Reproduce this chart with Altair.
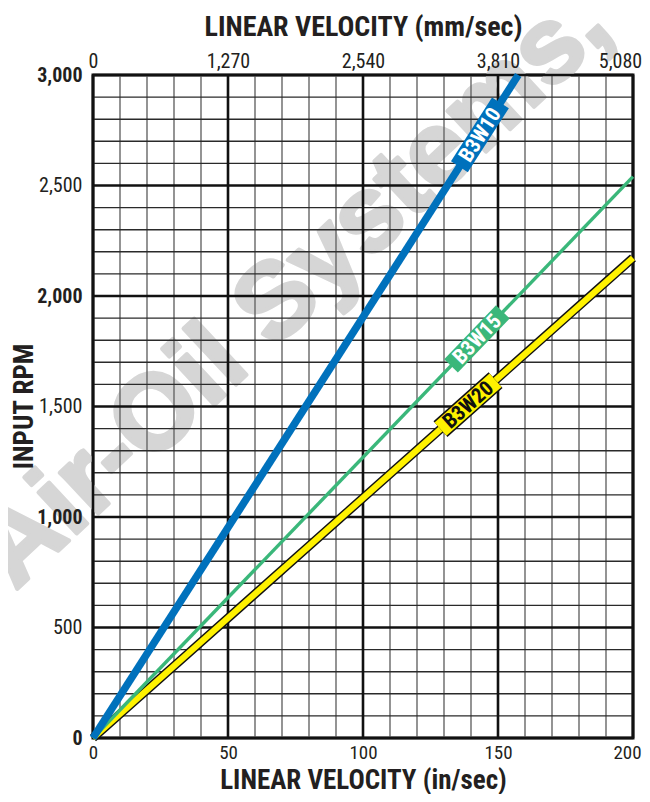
import altair as alt
import pandas as pd

# ---------------- data ----------------
series = ["B3W10", "B3W15", "B3W20"]
x_end = [157.5, 200.0, 200.0]        # in/sec where each line ends
rpm_end = [3000.0, 2540.0, 2172.0]   # rpm where each line ends
label_x = [143.3, 142.2, 138.9]      # in/sec at centre of each line label

x_ticks = [0, 50, 100, 150, 200]
mm_ticks = [0, 1270, 2540, 3810, 5080]
rpm_ticks = [0, 500, 1000, 1500, 2000, 2500, 3000]
x_grid = list(range(0, 201, 10))
rpm_grid = list(range(0, 3001, 100))

watermark = "Air-Oil Systems,"
wm_x, wm_rpm = 74.0, 2036.0

# ---------------- styles ----------------
colors = {"B3W10": "#0071bc", "B3W15": "#3ab77a", "B3W20": "#fff200"}
text_colors = {"B3W10": "#ffffff", "B3W15": "#ffffff", "B3W20": "#111111"}
angles = {"B3W10": 302.6, "B3W15": 313.8, "B3W20": 318.4}
box_half = {"B3W10": 7.6, "B3W15": 9.6, "B3W20": 10.2}
NARROW = "Liberation Sans Narrow, Arial Narrow, Roboto Condensed, Liberation Sans, sans-serif"
TXT = "#231f20"

xscale = alt.Scale(domain=[0, 200], nice=False, zero=True)
yscale = alt.Scale(domain=[0, 3000], nice=False, zero=True)

xaxis = alt.Axis(
    values=x_ticks, format="d", grid=False, ticks=False, domain=False, zindex=1,
    labelFont=NARROW, labelFontSize=19, labelColor=TXT, labelPadding=5, labelFlush=False,
    labelOffset={"condition": {"test": "datum.value === 200", "value": -6}, "value": 0},
    title="LINEAR VELOCITY (in/sec)", titleFont=NARROW, titleFontSize=27,
    titleFontWeight="bold", titleColor=TXT, titleY=50, titleBaseline="alphabetic",
)
yaxis = alt.Axis(
    values=rpm_ticks, format=",d", grid=False, ticks=False, domain=False, zindex=1,
    labelFont=NARROW, labelFontSize=20, labelColor=TXT, labelPadding=11, labelFlush=False,
    labelFontWeight={"condition": {"test": "datum.value % 1000 === 0", "value": "bold"}, "value": "normal"},
    title="INPUT RPM", titleFont=NARROW, titleFontSize=27, titleFontWeight="bold",
    titleColor=TXT, titleX=-69, titleY=331, titleAngle=270, titleBaseline="middle",
)


def X(field="x"):
    return alt.X(f"{field}:Q", scale=xscale, axis=xaxis)


def Y(field="rpm"):
    return alt.Y(f"{field}:Q", scale=yscale, axis=yaxis)


# ---------------- tables ----------------
lines = []
boxes = []
labels = []
for s, xe, re, lx in zip(series, x_end, rpm_end, label_x):
    slope = re / xe
    lines += [{"series": s, "x": 0.0, "rpm": 0.0}, {"series": s, "x": xe, "rpm": re}]
    h = box_half[s]
    boxes += [{"series": s, "x": lx - h, "rpm": (lx - h) * slope},
              {"series": s, "x": lx + h, "rpm": (lx + h) * slope}]
    labels.append({"series": s, "x": lx, "rpm": lx * slope})
lines = pd.DataFrame(lines)
boxes = pd.DataFrame(boxes)
labels = pd.DataFrame(labels)

xg = pd.DataFrame({"x": x_grid})
yg = pd.DataFrame({"rpm": rpm_grid})

# ---------------- layers ----------------
wm = alt.Chart(pd.DataFrame({"x": [wm_x], "rpm": [wm_rpm], "t": [watermark]})).mark_text(
    font="Liberation Sans, Arial, sans-serif", fontWeight="bold", fontSize=106,
    angle=317, color="#d6d6d6", stroke="#d6d6d6", strokeWidth=4, strokeJoin="round",
    align="center", baseline="middle"
).encode(x=X(), y=Y(), text="t:N")

vminor = alt.Chart(xg).transform_filter("datum.x % 50 !== 0").mark_rule(
    color="#666666", strokeWidth=1.4).encode(x=X())
hminor = alt.Chart(yg).transform_filter("datum.rpm % 500 !== 0").mark_rule(
    color="#2a2a2a", strokeWidth=1.4).encode(y=Y())
vmajor = alt.Chart(xg).transform_filter("datum.x % 50 === 0").mark_rule(
    color="#111111", strokeWidth=2.6).encode(x=X())
hmajor = alt.Chart(yg).transform_filter("datum.rpm % 500 === 0").mark_rule(
    color="#111111", strokeWidth=2.6).encode(y=Y())


def line_layer(s, color, width, data=None, cap="butt"):
    d = (lines if data is None else data)
    d = d[d["series"] == s]
    return alt.Chart(d).mark_line(color=color, strokeWidth=width, strokeCap=cap).encode(
        x=X(), y=Y(), order="x:Q")


def label_layer(s):
    d = labels[labels["series"] == s]
    return alt.Chart(d).mark_text(
        font=NARROW, fontWeight="bold", fontSize=21, angle=angles[s],
        color=text_colors[s], align="center", baseline="middle", dy=1
    ).encode(x=X(), y=Y(), text="series:N")


layers = [
    wm, vminor, hminor, vmajor, hmajor,
    line_layer("B3W20", "#111111", 9),
    line_layer("B3W20", colors["B3W20"], 6.2),
    line_layer("B3W15", colors["B3W15"], 3.4),
    line_layer("B3W10", colors["B3W10"], 7.5),
    line_layer("B3W10", colors["B3W10"], 20, boxes),
    line_layer("B3W15", colors["B3W15"], 19, boxes),
    line_layer("B3W20", "#111111", 21, boxes),
    line_layer("B3W20", colors["B3W20"], 18, boxes),
    label_layer("B3W10"), label_layer("B3W15"), label_layer("B3W20"),
]
main = alt.layer(*layers)

top_axis = alt.Axis(
    values=mm_ticks, format=",d", orient="top", grid=False, ticks=False, domain=False, zindex=1,
    labelFont=NARROW, labelFontSize=20, labelColor=TXT, labelPadding=4, labelFlush=False,
    labelOffset={"condition": {"test": "datum.value === 5080", "value": -13}, "value": 0},
    title="LINEAR VELOCITY (mm/sec)", titleFont=NARROW, titleFontSize=28,
    titleFontWeight="bold", titleColor=TXT, titleY=-40, titleBaseline="alphabetic",
)
top = alt.Chart(pd.DataFrame({"mm": mm_ticks})).mark_point(opacity=0).encode(
    x=alt.X("mm:Q", scale=alt.Scale(domain=[0, 5080], nice=False), axis=top_axis)
)

chart = alt.layer(main, top).resolve_scale(x="independent").properties(
    width=540, height=663,
    autosize=alt.AutoSizeParams(type="none"),
    padding={"left": 85, "top": 67, "right": 9, "bottom": 56},
    background="white",
).configure_view(stroke="#111111", strokeWidth=3)

chart.save("out.html", embed_options={"renderer": "svg", "actions": False})
